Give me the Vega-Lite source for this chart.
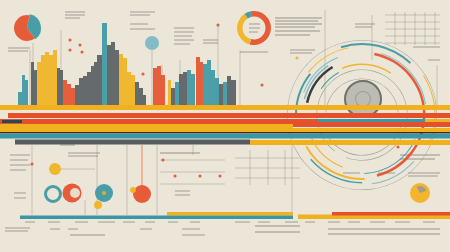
{
  "$schema": "https://vega.github.io/schema/vega-lite/v6.json",
  "width": 450,
  "height": 252,
  "autosize": {"type": "fit", "contains": "padding"},
  "padding": 0,
  "background": "#ebe6d8",
  "config": {"view": {"stroke": null}},
  "datasets": {
    "bars": [
      {"x1": 18, "x2": 22, "top": 92, "c": "t"},
      {"x1": 22, "x2": 25, "top": 75, "c": "t"},
      {"x1": 25, "x2": 28, "top": 80, "c": "t"},
      {"x1": 31, "x2": 34, "top": 62, "c": "g"},
      {"x1": 34, "x2": 37, "top": 70, "c": "g"},
      {"x1": 37, "x2": 41, "top": 62, "c": "y"},
      {"x1": 41, "x2": 45, "top": 55, "c": "y"},
      {"x1": 45, "x2": 49, "top": 52, "c": "y"},
      {"x1": 49, "x2": 53, "top": 55, "c": "y"},
      {"x1": 53, "x2": 57, "top": 50, "c": "y"},
      {"x1": 57, "x2": 60, "top": 68, "c": "g"},
      {"x1": 60, "x2": 63, "top": 70, "c": "g"},
      {"x1": 63, "x2": 67, "top": 80, "c": "o"},
      {"x1": 67, "x2": 71, "top": 84, "c": "o"},
      {"x1": 71, "x2": 75, "top": 88, "c": "o"},
      {"x1": 75, "x2": 79, "top": 85, "c": "g"},
      {"x1": 79, "x2": 83, "top": 78, "c": "g"},
      {"x1": 83, "x2": 87, "top": 76, "c": "g"},
      {"x1": 87, "x2": 91, "top": 72, "c": "g"},
      {"x1": 91, "x2": 94, "top": 66, "c": "g"},
      {"x1": 94, "x2": 97, "top": 62, "c": "g"},
      {"x1": 97, "x2": 102, "top": 55, "c": "g"},
      {"x1": 102, "x2": 107, "top": 23, "c": "t"},
      {"x1": 107, "x2": 111, "top": 45, "c": "g"},
      {"x1": 111, "x2": 115, "top": 42, "c": "g"},
      {"x1": 115, "x2": 119, "top": 50, "c": "g"},
      {"x1": 119, "x2": 123, "top": 54, "c": "y"},
      {"x1": 123, "x2": 127, "top": 58, "c": "y"},
      {"x1": 127, "x2": 131, "top": 72, "c": "y"},
      {"x1": 131, "x2": 135, "top": 75, "c": "y"},
      {"x1": 135, "x2": 139, "top": 82, "c": "g"},
      {"x1": 139, "x2": 143, "top": 88, "c": "g"},
      {"x1": 143, "x2": 146, "top": 95, "c": "g"},
      {"x1": 153, "x2": 157, "top": 68, "c": "o"},
      {"x1": 157, "x2": 161, "top": 66, "c": "o"},
      {"x1": 161, "x2": 165, "top": 75, "c": "o"},
      {"x1": 168, "x2": 171, "top": 80, "c": "y"},
      {"x1": 171, "x2": 175, "top": 88, "c": "g"},
      {"x1": 175, "x2": 179, "top": 82, "c": "t"},
      {"x1": 179, "x2": 183, "top": 74, "c": "g"},
      {"x1": 183, "x2": 187, "top": 72, "c": "g"},
      {"x1": 187, "x2": 191, "top": 70, "c": "t"},
      {"x1": 191, "x2": 195, "top": 74, "c": "t"},
      {"x1": 196, "x2": 200, "top": 57, "c": "o"},
      {"x1": 200, "x2": 203, "top": 62, "c": "o"},
      {"x1": 203, "x2": 207, "top": 64, "c": "t"},
      {"x1": 207, "x2": 211, "top": 60, "c": "t"},
      {"x1": 211, "x2": 215, "top": 70, "c": "t"},
      {"x1": 215, "x2": 219, "top": 78, "c": "t"},
      {"x1": 219, "x2": 223, "top": 84, "c": "g"},
      {"x1": 223, "x2": 227, "top": 82, "c": "t"},
      {"x1": 227, "x2": 231, "top": 76, "c": "g"},
      {"x1": 231, "x2": 236, "top": 80, "c": "g"}
    ],
    "bands": [
      {"x1": 0, "x2": 450, "y1": 105, "y2": 110, "c": "y"},
      {"x1": 8, "x2": 450, "y1": 113, "y2": 118, "c": "o"},
      {"x1": 0, "x2": 317, "y1": 119, "y2": 124, "c": "o"},
      {"x1": 317, "x2": 425, "y1": 119, "y2": 123, "c": "t"},
      {"x1": 425, "x2": 450, "y1": 119, "y2": 124, "c": "y"},
      {"x1": 2, "x2": 22, "y1": 120, "y2": 123, "c": "d"},
      {"x1": 0, "x2": 293, "y1": 124, "y2": 132, "c": "y"},
      {"x1": 293, "x2": 450, "y1": 122, "y2": 127, "c": "o"},
      {"x1": 293, "x2": 450, "y1": 128, "y2": 132, "c": "y"},
      {"x1": 0, "x2": 450, "y1": 132, "y2": 133.5, "c": "k"},
      {"x1": 0, "x2": 450, "y1": 134, "y2": 138.5, "c": "t"},
      {"x1": 15, "x2": 250, "y1": 139.5, "y2": 144.5, "c": "g"},
      {"x1": 250, "x2": 450, "y1": 140, "y2": 145, "c": "y"},
      {"x1": 167, "x2": 293, "y1": 212, "y2": 215.5, "c": "y"},
      {"x1": 20, "x2": 293, "y1": 215.5, "y2": 219, "c": "t"},
      {"x1": 298, "x2": 450, "y1": 214.5, "y2": 219, "c": "y"},
      {"x1": 332, "x2": 450, "y1": 212, "y2": 215.5, "c": "o"}
    ],
    "arcs": [
      {"cx": 362, "cy": 115, "r1": 74.5, "r2": 75, "t1": -1.7, "t2": 4.6, "c": "m"},
      {"cx": 362, "cy": 115, "r1": 70, "r2": 72, "t1": -0.3, "t2": 0.75, "c": "t"},
      {"cx": 362, "cy": 115, "r1": 72.5, "r2": 73.5, "t1": 1.0, "t2": 2.0, "c": "y"},
      {"cx": 362, "cy": 115, "r1": 68, "r2": 69, "t1": -0.9, "t2": -0.2, "c": "y"},
      {"cx": 362, "cy": 115, "r1": 69, "r2": 70, "t1": 2.3, "t2": 3.0, "c": "l"},
      {"cx": 362, "cy": 115, "r1": 65, "r2": 67, "t1": -1.6, "t2": -0.9, "c": "t"},
      {"cx": 362, "cy": 115, "r1": 61, "r2": 63.5, "t1": 0.2, "t2": 2.9, "c": "o"},
      {"cx": 362, "cy": 115, "r1": 64, "r2": 65, "t1": 0.3, "t2": 1.4, "c": "l"},
      {"cx": 362, "cy": 115, "r1": 55, "r2": 57.5, "t1": -1.35, "t2": -0.55, "c": "k"},
      {"cx": 362, "cy": 115, "r1": 59, "r2": 60.5, "t1": -1.3, "t2": -0.6, "c": "l"},
      {"cx": 362, "cy": 115, "r1": 62, "r2": 63, "t1": -1.2, "t2": -0.4, "c": "l"},
      {"cx": 362, "cy": 115, "r1": 63, "r2": 65, "t1": 3.1, "t2": 4.2, "c": "y"},
      {"cx": 362, "cy": 115, "r1": 67, "r2": 68.5, "t1": 3.14, "t2": 4.0, "c": "t"},
      {"cx": 362, "cy": 115, "r1": 58, "r2": 59, "t1": 2.0, "t2": 3.1, "c": "t"},
      {"cx": 362, "cy": 115, "r1": 55, "r2": 56, "t1": 3.5, "t2": 4.3, "c": "y"},
      {"cx": 362, "cy": 115, "r1": 50, "r2": 51.5, "t1": -0.4, "t2": 0.6, "c": "y"},
      {"cx": 362, "cy": 115, "r1": 48, "r2": 49, "t1": -1.0, "t2": -0.5, "c": "t"},
      {"cx": 362, "cy": 115, "r1": 45, "r2": 45.6, "t1": -2.5, "t2": 3.5, "c": "m"},
      {"cx": 362, "cy": 115, "r1": 40, "r2": 40.6, "t1": 1.8, "t2": 4.2, "c": "m"},
      {"cx": 362, "cy": 115, "r1": 36, "r2": 36.6, "t1": -1.5, "t2": 1.5, "c": "m"},
      {"cx": 363, "cy": 99, "r1": 0, "r2": 19, "t1": 0, "t2": 6.2832, "c": "v"},
      {"cx": 363, "cy": 99, "r1": 17, "r2": 19, "t1": 0, "t2": 6.2832, "c": "s"},
      {"cx": 363, "cy": 99, "r1": 7, "r2": 8, "t1": 0, "t2": 6.2832, "c": "m"},
      {"cx": 254, "cy": 28, "r1": 11.5, "r2": 17, "t1": -0.2, "t2": 3.4, "c": "o"},
      {"cx": 254, "cy": 28, "r1": 11.5, "r2": 17, "t1": 3.4, "t2": 5.7, "c": "y"},
      {"cx": 254, "cy": 28, "r1": 11.5, "r2": 17, "t1": 5.7, "t2": 6.08, "c": "t"},
      {"cx": 27, "cy": 28, "r1": 0, "r2": 14, "t1": 0.2, "t2": 2.5, "c": "t"},
      {"cx": 27, "cy": 28, "r1": 0, "r2": 13, "t1": 2.5, "t2": 6.48, "c": "o"},
      {"cx": 152, "cy": 43, "r1": 0, "r2": 7, "t1": 0, "t2": 6.2832, "c": "l"},
      {"cx": 53, "cy": 194, "r1": 6, "r2": 9, "t1": 0, "t2": 6.2832, "c": "t"},
      {"cx": 72, "cy": 193, "r1": 0, "r2": 9.5, "t1": 0, "t2": 6.2832, "c": "o"},
      {"cx": 75, "cy": 193, "r1": 0, "r2": 5, "t1": 0, "t2": 6.2832, "c": "w"},
      {"cx": 104, "cy": 193, "r1": 0, "r2": 9, "t1": 0, "t2": 6.2832, "c": "t"},
      {"cx": 104, "cy": 193, "r1": 0, "r2": 2, "t1": 0, "t2": 6.2832, "c": "y"},
      {"cx": 98, "cy": 205, "r1": 0, "r2": 4, "t1": 0, "t2": 6.2832, "c": "y"},
      {"cx": 55, "cy": 169, "r1": 0, "r2": 6, "t1": 0, "t2": 6.2832, "c": "y"},
      {"cx": 142, "cy": 194, "r1": 0, "r2": 9, "t1": 0, "t2": 6.2832, "c": "o"},
      {"cx": 133, "cy": 190, "r1": 0, "r2": 3, "t1": 0, "t2": 6.2832, "c": "y"},
      {"cx": 420, "cy": 193, "r1": 0, "r2": 10, "t1": 0, "t2": 6.2832, "c": "y"},
      {"cx": 420, "cy": 193, "r1": 0, "r2": 7, "t1": -0.5, "t2": 1.2, "c": "m"}
    ],
    "lines": [
      {"x1": 33, "y1": 43, "x2": 33, "y2": 105},
      {"x1": 30, "y1": 50, "x2": 30, "y2": 105},
      {"x1": 61, "y1": 30, "x2": 61, "y2": 105},
      {"x1": 152, "y1": 50, "x2": 152, "y2": 105},
      {"x1": 162, "y1": 65, "x2": 162, "y2": 105},
      {"x1": 180, "y1": 60, "x2": 180, "y2": 105},
      {"x1": 218, "y1": 25, "x2": 218, "y2": 105},
      {"x1": 240, "y1": 50, "x2": 240, "y2": 105},
      {"x1": 325, "y1": 10, "x2": 325, "y2": 105},
      {"x1": 372, "y1": 15, "x2": 372, "y2": 60},
      {"x1": 437, "y1": 65, "x2": 437, "y2": 105},
      {"x1": 32, "y1": 145, "x2": 32, "y2": 215},
      {"x1": 97, "y1": 145, "x2": 97, "y2": 215},
      {"x1": 127, "y1": 145, "x2": 127, "y2": 215},
      {"x1": 157, "y1": 145, "x2": 157, "y2": 215},
      {"x1": 85, "y1": 200, "x2": 85, "y2": 215},
      {"x1": 193, "y1": 145, "x2": 193, "y2": 155},
      {"x1": 292, "y1": 145, "x2": 292, "y2": 212},
      {"x1": 60, "y1": 169, "x2": 95, "y2": 169},
      {"x1": 385, "y1": 15, "x2": 440, "y2": 15},
      {"x1": 385, "y1": 22, "x2": 440, "y2": 22},
      {"x1": 385, "y1": 29, "x2": 440, "y2": 29},
      {"x1": 385, "y1": 36, "x2": 440, "y2": 36},
      {"x1": 385, "y1": 43, "x2": 440, "y2": 43},
      {"x1": 395, "y1": 12, "x2": 395, "y2": 45},
      {"x1": 405, "y1": 12, "x2": 405, "y2": 45},
      {"x1": 415, "y1": 12, "x2": 415, "y2": 45},
      {"x1": 425, "y1": 12, "x2": 425, "y2": 45},
      {"x1": 435, "y1": 12, "x2": 435, "y2": 45},
      {"x1": 160, "y1": 160, "x2": 225, "y2": 160},
      {"x1": 160, "y1": 172, "x2": 225, "y2": 172},
      {"x1": 160, "y1": 184, "x2": 225, "y2": 184},
      {"x1": 235, "y1": 158, "x2": 300, "y2": 158},
      {"x1": 235, "y1": 168, "x2": 300, "y2": 168},
      {"x1": 235, "y1": 178, "x2": 300, "y2": 178},
      {"x1": 250, "y1": 150, "x2": 250, "y2": 185},
      {"x1": 268, "y1": 150, "x2": 268, "y2": 185},
      {"x1": 285, "y1": 150, "x2": 285, "y2": 185}
    ],
    "redlines": [
      {"x1": 142, "y1": 145, "x2": 142, "y2": 186}
    ],
    "text": [
      {"x1": 65, "y1": 12, "x2": 85, "y2": 12},
      {"x1": 65, "y1": 15, "x2": 85, "y2": 15},
      {"x1": 65, "y1": 18, "x2": 80, "y2": 18},
      {"x1": 130, "y1": 12, "x2": 155, "y2": 12},
      {"x1": 130, "y1": 15, "x2": 150, "y2": 15},
      {"x1": 130, "y1": 24, "x2": 148, "y2": 24},
      {"x1": 130, "y1": 29, "x2": 155, "y2": 29},
      {"x1": 174, "y1": 28, "x2": 194, "y2": 28},
      {"x1": 174, "y1": 32, "x2": 194, "y2": 32},
      {"x1": 174, "y1": 36, "x2": 192, "y2": 36},
      {"x1": 174, "y1": 40, "x2": 194, "y2": 40},
      {"x1": 174, "y1": 44, "x2": 190, "y2": 44},
      {"x1": 203, "y1": 40, "x2": 218, "y2": 40},
      {"x1": 203, "y1": 43, "x2": 218, "y2": 43},
      {"x1": 8, "y1": 48, "x2": 30, "y2": 48},
      {"x1": 8, "y1": 51, "x2": 28, "y2": 51},
      {"x1": 275, "y1": 18, "x2": 322, "y2": 18},
      {"x1": 275, "y1": 21, "x2": 318, "y2": 21},
      {"x1": 275, "y1": 24, "x2": 322, "y2": 24},
      {"x1": 275, "y1": 27, "x2": 315, "y2": 27},
      {"x1": 275, "y1": 31, "x2": 320, "y2": 31},
      {"x1": 275, "y1": 35, "x2": 310, "y2": 35},
      {"x1": 290, "y1": 50, "x2": 315, "y2": 50},
      {"x1": 290, "y1": 53, "x2": 312, "y2": 53},
      {"x1": 240, "y1": 52, "x2": 268, "y2": 52},
      {"x1": 355, "y1": 24, "x2": 375, "y2": 24},
      {"x1": 355, "y1": 27, "x2": 372, "y2": 27},
      {"x1": 413, "y1": 47, "x2": 440, "y2": 47},
      {"x1": 428, "y1": 60, "x2": 440, "y2": 60},
      {"x1": 249, "y1": 24, "x2": 260, "y2": 24},
      {"x1": 249, "y1": 28, "x2": 260, "y2": 28},
      {"x1": 249, "y1": 32, "x2": 258, "y2": 32},
      {"x1": 10, "y1": 155, "x2": 30, "y2": 155},
      {"x1": 10, "y1": 160, "x2": 28, "y2": 160},
      {"x1": 10, "y1": 165, "x2": 30, "y2": 165},
      {"x1": 10, "y1": 170, "x2": 26, "y2": 170},
      {"x1": 14, "y1": 193, "x2": 26, "y2": 193},
      {"x1": 14, "y1": 198, "x2": 26, "y2": 198},
      {"x1": 60, "y1": 145, "x2": 75, "y2": 145},
      {"x1": 68, "y1": 153, "x2": 100, "y2": 153},
      {"x1": 68, "y1": 156, "x2": 98, "y2": 156},
      {"x1": 160, "y1": 153, "x2": 200, "y2": 153},
      {"x1": 175, "y1": 191, "x2": 190, "y2": 191},
      {"x1": 175, "y1": 195, "x2": 190, "y2": 195},
      {"x1": 25, "y1": 222, "x2": 35, "y2": 222},
      {"x1": 48, "y1": 222, "x2": 60, "y2": 222},
      {"x1": 75, "y1": 222, "x2": 88, "y2": 222},
      {"x1": 98, "y1": 222, "x2": 115, "y2": 222},
      {"x1": 123, "y1": 222, "x2": 135, "y2": 222},
      {"x1": 145, "y1": 222, "x2": 155, "y2": 222},
      {"x1": 168, "y1": 222, "x2": 178, "y2": 222},
      {"x1": 190, "y1": 222, "x2": 200, "y2": 222},
      {"x1": 235, "y1": 222, "x2": 250, "y2": 222},
      {"x1": 258, "y1": 222, "x2": 270, "y2": 222},
      {"x1": 285, "y1": 222, "x2": 298, "y2": 222},
      {"x1": 305, "y1": 222, "x2": 315, "y2": 222},
      {"x1": 328, "y1": 222, "x2": 340, "y2": 222},
      {"x1": 348, "y1": 222, "x2": 360, "y2": 222},
      {"x1": 370, "y1": 222, "x2": 385, "y2": 222},
      {"x1": 395, "y1": 222, "x2": 410, "y2": 222},
      {"x1": 423, "y1": 222, "x2": 435, "y2": 222},
      {"x1": 5, "y1": 228, "x2": 30, "y2": 228},
      {"x1": 5, "y1": 231, "x2": 28, "y2": 231},
      {"x1": 50, "y1": 229, "x2": 60, "y2": 229},
      {"x1": 68, "y1": 229, "x2": 78, "y2": 229},
      {"x1": 70, "y1": 235, "x2": 105, "y2": 235},
      {"x1": 140, "y1": 229, "x2": 152, "y2": 229},
      {"x1": 182, "y1": 229, "x2": 200, "y2": 229},
      {"x1": 182, "y1": 235, "x2": 205, "y2": 235},
      {"x1": 255, "y1": 226, "x2": 300, "y2": 226},
      {"x1": 255, "y1": 232, "x2": 300, "y2": 232},
      {"x1": 328, "y1": 229, "x2": 440, "y2": 229},
      {"x1": 328, "y1": 234, "x2": 440, "y2": 234},
      {"x1": 343, "y1": 173, "x2": 360, "y2": 173},
      {"x1": 378, "y1": 173, "x2": 395, "y2": 173},
      {"x1": 408, "y1": 173, "x2": 440, "y2": 173},
      {"x1": 408, "y1": 176, "x2": 438, "y2": 176},
      {"x1": 400, "y1": 155, "x2": 440, "y2": 155},
      {"x1": 400, "y1": 159, "x2": 435, "y2": 159}
    ],
    "dots": [
      {"x": 143, "y": 74, "c": "o"},
      {"x": 218, "y": 25, "c": "o"},
      {"x": 297, "y": 58, "c": "y"},
      {"x": 32, "y": 164, "c": "o"},
      {"x": 163, "y": 160, "c": "o"},
      {"x": 175, "y": 176, "c": "o"},
      {"x": 200, "y": 176, "c": "o"},
      {"x": 220, "y": 176, "c": "o"},
      {"x": 398, "y": 147, "c": "o"},
      {"x": 262, "y": 85, "c": "o"},
      {"x": 70, "y": 40, "c": "o"},
      {"x": 80, "y": 45, "c": "o"},
      {"x": 70, "y": 50, "c": "o"},
      {"x": 82, "y": 52, "c": "o"}
    ]
  },
  "layer": [
    {
      "data": {"name": "lines"},
      "mark": {"type": "rule", "strokeWidth": 0.6, "opacity": 0.5, "color": "#6b6f70"},
      "encoding": {
        "x": {"field": "x1", "type": "quantitative", "scale": {"domain": [0, 450], "nice": false, "zero": false}, "axis": null},
        "x2": {"field": "x2"},
        "y": {"field": "y1", "type": "quantitative", "scale": {"domain": [0, 252], "nice": false, "zero": false, "reverse": true}, "axis": null},
        "y2": {"field": "y2"}
      }
    },
    {
      "data": {"name": "redlines"},
      "mark": {"type": "rule", "strokeWidth": 0.8, "opacity": 0.8, "color": "#e5502b"},
      "encoding": {
        "x": {"field": "x1", "type": "quantitative"},
        "x2": {"field": "x2"},
        "y": {"field": "y1", "type": "quantitative"},
        "y2": {"field": "y2"}
      }
    },
    {
      "data": {"name": "text"},
      "mark": {"type": "rule", "strokeWidth": 1.3, "opacity": 0.4, "color": "#5a5a55"},
      "encoding": {
        "x": {"field": "x1", "type": "quantitative"},
        "x2": {"field": "x2"},
        "y": {"field": "y1", "type": "quantitative"},
        "y2": {"field": "y2"}
      }
    },
    {
      "data": {"name": "bars"},
      "mark": {"type": "rect", "opacity": 0.9},
      "encoding": {
        "x": {"field": "x1", "type": "quantitative"},
        "x2": {"field": "x2"},
        "y": {"field": "top", "type": "quantitative"},
        "y2": {"datum": 105},
        "color": {"field": "c", "type": "nominal", "legend": null,
          "scale": {"domain": ["y", "o", "t", "g", "k", "d", "l", "m", "w", "s", "v"],
                    "range": ["#f1b11f", "#e5502b", "#3a97a3", "#575c61", "#2b2e31", "#1e4c58", "#7ab7c6", "#9a9a94", "#ebe6d8", "#6a6a66", "#b9b8b1"]}}
      }
    },
    {
      "data": {"name": "arcs"},
      "mark": {"type": "arc", "opacity": 0.92},
      "encoding": {
        "x": {"field": "cx", "type": "quantitative"},
        "y": {"field": "cy", "type": "quantitative"},
        "theta": {"field": "t1", "type": "quantitative", "scale": null},
        "theta2": {"field": "t2"},
        "radius": {"field": "r2", "type": "quantitative", "scale": null},
        "radius2": {"field": "r1"},
        "color": {"field": "c", "type": "nominal", "legend": null}
      }
    },
    {
      "data": {"name": "bands"},
      "mark": {"type": "rect"},
      "encoding": {
        "x": {"field": "x1", "type": "quantitative"},
        "x2": {"field": "x2"},
        "y": {"field": "y1", "type": "quantitative"},
        "y2": {"field": "y2"},
        "color": {"field": "c", "type": "nominal", "legend": null}
      }
    },
    {
      "data": {"name": "dots"},
      "mark": {"type": "circle", "size": 10, "opacity": 0.9},
      "encoding": {
        "x": {"field": "x", "type": "quantitative"},
        "y": {"field": "y", "type": "quantitative"},
        "color": {"field": "c", "type": "nominal", "legend": null}
      }
    }
  ]
}
